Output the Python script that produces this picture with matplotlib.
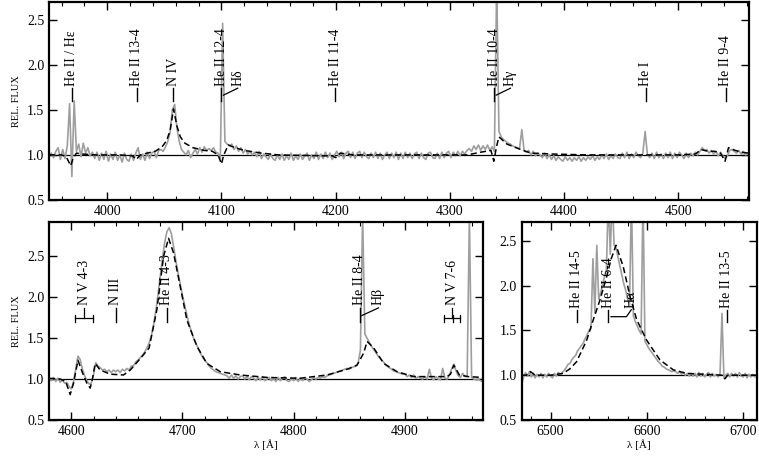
import numpy as np
import matplotlib
matplotlib.use("Agg")
import matplotlib.pyplot as plt
from matplotlib.ticker import MultipleLocator, FormatStrFormatter

plt.rcParams['font.family'] = ['Liberation Serif', 'DejaVu Serif']

# observed spectrum, blue part (2 A steps from 3949 A)
obs_blue_wave = np.arange(3949, 4562, 2)
obs_blue_flux = [
    1.00, 1.02, 0.97, 1.04, 1.08, 0.95, 1.06, 0.96, 1.10, 1.57,
    0.76, 1.60, 1.04, 1.12, 0.98, 1.13, 1.02, 1.08, 0.99, 1.03,
    0.96, 1.03, 0.94, 1.02, 0.95, 1.04, 0.93, 1.01, 0.95, 1.03,
    0.94, 1.00, 0.92, 1.02, 0.95, 0.93, 1.01, 0.94, 1.02, 1.08,
    0.95, 1.01, 0.94, 1.03, 0.96, 1.02, 1.04, 0.97, 1.05, 1.06,
    1.04, 1.09, 1.15, 1.25, 1.50, 1.56, 1.30, 1.15, 1.06, 1.03,
    1.00, 1.05, 0.97, 1.02, 1.06, 1.01, 1.08, 1.03, 1.09, 1.05,
    1.07, 1.05, 1.08, 1.03, 1.02, 0.96, 2.46, 1.15, 1.12, 1.10,
    1.12, 1.06, 1.10, 1.04, 1.08, 1.02, 1.06, 1.01, 1.04, 1.00,
    1.03, 0.98, 1.04, 0.96, 1.01, 0.98, 0.95, 1.01, 0.96, 0.94,
    1.00, 0.95, 1.01, 0.94, 0.99, 0.95, 1.02, 0.94, 0.99, 0.95,
    1.01, 0.95, 0.99, 1.02, 0.94, 1.00, 0.96, 1.03, 0.95, 1.01,
    0.96, 1.03, 0.97, 1.02, 0.95, 1.00, 1.04, 0.98, 1.03, 0.96,
    1.02, 1.04, 0.97, 1.03, 0.96, 1.02, 1.04, 0.97, 1.03, 0.98,
    0.96, 1.02, 0.97, 1.03, 0.96, 1.02, 0.95, 1.00, 1.03, 0.96,
    1.02, 0.97, 1.03, 0.95, 1.02, 0.96, 1.03, 0.97, 1.02, 0.96,
    1.01, 1.03, 0.96, 1.02, 0.97, 0.95, 1.02, 1.03, 0.97, 0.96,
    1.02, 0.96, 1.03, 0.97, 1.02, 1.04, 0.97, 1.03, 0.99, 1.04,
    0.99, 1.04, 1.01, 1.05, 1.07, 1.04, 1.10, 1.06, 1.11, 1.05,
    1.10, 1.06, 1.11, 1.05, 1.09, 1.04, 2.90, 1.26, 1.20, 1.17,
    1.15, 1.13, 1.12, 1.10, 1.09, 1.08, 1.07, 1.28, 1.05, 1.03,
    1.05, 1.00, 1.04, 0.99, 1.02, 1.00, 0.97, 1.02, 0.96, 1.00,
    0.95, 0.99, 0.94, 0.98, 0.95, 0.93, 0.98, 0.94, 0.97, 0.93,
    0.97, 0.94, 0.98, 0.93, 0.97, 0.94, 0.98, 0.95, 0.99, 0.94,
    0.98, 0.95, 1.00, 0.96, 1.01, 0.95, 0.99, 0.96, 1.01, 0.97,
    0.96, 1.02, 0.97, 1.03, 0.96, 1.01, 0.97, 1.03, 0.99, 0.97,
    1.02, 1.26, 1.00, 0.97, 1.02, 0.96, 1.03, 0.97, 1.01, 0.96,
    1.02, 0.97, 1.03, 0.96, 1.02, 0.97, 1.03, 1.00, 0.96, 1.02,
    0.97, 1.02, 0.99, 1.03, 1.00, 1.04, 1.08, 1.05, 1.06, 1.02,
    1.05, 1.01, 1.04, 0.99, 1.03, 0.99, 0.96, 0.99, 1.05, 1.06,
    1.04, 1.02, 1.05, 1.01, 1.04, 1.00, 1.02,
]

# observed spectrum, He II 4686 part (2 A steps from 4580 A)
obs_green_wave = np.arange(4580, 4971, 2)
obs_green_flux = [
    1.00, 0.98, 1.02, 0.97, 1.01, 0.96, 0.99, 0.95, 0.96, 0.91,
    0.88, 0.96, 1.12, 1.28, 1.24, 1.12, 1.04, 0.98, 0.94, 0.95,
    1.05, 1.20, 1.16, 1.14, 1.11, 1.12, 1.09, 1.11, 1.08, 1.11,
    1.09, 1.11, 1.08, 1.12, 1.10, 1.13, 1.11, 1.16, 1.16, 1.21,
    1.23, 1.26, 1.29, 1.33, 1.38, 1.44, 1.53, 1.66, 1.83, 2.03,
    2.25, 2.48, 2.67, 2.80, 2.85, 2.78, 2.62, 2.45, 2.30, 2.16,
    2.02, 1.90, 1.78, 1.67, 1.58, 1.50, 1.44, 1.38, 1.32, 1.27,
    1.23, 1.20, 1.16, 1.13, 1.11, 1.09, 1.08, 1.07, 1.06, 1.05,
    1.04, 1.01, 1.05, 1.01, 1.04, 1.00, 1.03, 1.04, 1.00, 1.03,
    0.99, 1.03, 1.01, 0.98, 1.02, 0.99, 1.03, 0.98, 1.00, 1.02,
    0.98, 1.01, 0.97, 1.02, 0.98, 1.01, 1.03, 0.98, 0.97, 1.01,
    0.98, 1.02, 0.97, 1.01, 0.98, 1.02, 1.00, 0.97, 0.99, 1.02,
    1.00, 1.02, 1.01, 1.03, 1.02, 1.04, 1.05, 1.06, 1.07, 1.08,
    1.09, 1.10, 1.11, 1.12, 1.13, 1.12, 1.14, 1.15, 1.16, 1.20,
    1.35, 3.00, 1.55, 1.50, 1.45, 1.40, 1.36, 1.32, 1.28, 1.25,
    1.22, 1.19, 1.16, 1.14, 1.12, 1.10, 1.09, 1.08, 1.07, 1.06,
    1.06, 1.03, 1.05, 1.02, 1.05, 1.01, 1.03, 1.01, 1.00, 1.03,
    1.00, 1.12, 1.01, 0.99, 1.03, 1.00, 0.99, 1.13, 1.01, 1.00,
    1.05, 1.12, 1.18, 1.10, 1.04, 1.02, 1.07, 1.03, 1.03, 3.00,
    1.02, 1.00, 0.99, 1.00, 0.98, 0.97,
]

# observed spectrum, H alpha part (2 A steps from 6470 A)
obs_red_wave = np.arange(6470, 6715, 2)
obs_red_flux = [
    0.90, 0.98, 1.03, 0.99, 1.04, 0.98, 1.02, 0.97, 1.01, 0.98,
    1.02, 0.97, 1.01, 0.98, 1.02, 0.99, 0.97, 1.02, 0.99, 1.03,
    1.01, 1.03, 1.05, 1.08, 1.12, 1.13, 1.17, 1.20, 1.22, 1.27,
    1.30, 1.33, 1.36, 1.41, 1.45, 1.50, 1.52, 2.30, 1.70, 2.45,
    1.85, 1.92, 2.00, 2.10, 2.18, 3.00, 2.35, 3.00, 2.45, 2.42,
    2.32, 2.22, 2.12, 2.02, 1.95, 1.85, 1.78, 3.00, 1.66, 1.60,
    1.55, 1.50, 1.46, 3.00, 1.38, 1.34, 1.30, 1.27, 1.24, 1.21,
    1.18, 1.15, 1.13, 1.10, 1.09, 1.07, 1.06, 1.05, 1.04, 1.05,
    1.04, 1.02, 1.04, 1.01, 1.03, 1.00, 1.02, 0.99, 1.02, 0.99,
    1.02, 0.98, 1.03, 0.99, 1.02, 0.98, 1.01, 1.03, 0.98, 1.02,
    0.99, 1.01, 0.98, 1.02, 1.69, 0.97, 1.00, 1.02, 0.98, 1.02,
    0.99, 1.02, 0.98, 1.03, 0.99, 0.98, 1.02, 0.97, 1.01, 0.98,
    1.01, 0.98, 1.00,
]

# model spectrum
mod_blue_wave = [3949, 3960, 3964, 3968, 3970, 3973, 3978, 3990, 4010, 4022,
                 4025.5, 4029, 4035, 4042, 4048, 4052, 4055, 4058, 4061, 4064,
                 4068, 4075, 4085, 4092, 4097, 4100, 4102, 4106, 4112, 4120,
                 4135, 4150, 4190, 4197, 4200, 4204, 4215, 4250, 4300, 4315,
                 4327, 4336, 4338.5, 4341, 4343, 4350, 4362, 4371, 4390, 4420,
                 4500, 4515, 4520, 4526, 4532, 4537, 4541, 4544, 4550, 4555,
                 4562]
mod_blue_flux = [1.00, 1.00, 0.98, 0.88, 0.96, 1.02, 1.01, 1.00, 1.00, 0.99,
                 0.95, 1.00, 1.02, 1.04, 1.09, 1.16, 1.27, 1.51, 1.32, 1.20,
                 1.13, 1.08, 1.05, 1.04, 1.00, 0.90, 1.00, 1.11, 1.08, 1.05,
                 1.02, 1.00, 0.99, 0.99, 0.97, 1.02, 1.00, 1.00, 1.00, 1.00,
                 1.03, 1.05, 0.93, 1.10, 1.20, 1.12, 1.06, 1.02, 1.01, 1.00,
                 1.00, 1.01, 1.06, 1.04, 1.04, 1.02, 0.93, 1.08, 1.05, 1.03,
                 1.02]

mod_green_wave = [4580, 4590, 4595, 4599, 4602, 4606, 4610, 4614, 4617, 4619,
                  4621.5, 4626, 4635, 4647, 4653, 4662, 4670, 4677, 4683, 4687.5,
                  4692, 4698, 4704, 4713, 4722, 4734, 4752, 4776, 4806, 4830,
                  4848, 4857, 4863, 4866, 4872, 4881, 4893, 4908, 4938, 4941,
                  4944, 4949, 4957, 4970]
mod_green_flux = [1.01, 1.00, 0.97, 0.81, 0.95, 1.23, 1.08, 0.95, 0.89, 1.00,
                  1.19, 1.11, 1.06, 1.05, 1.11, 1.25, 1.38, 1.85, 2.50, 2.72,
                  2.54, 2.13, 1.72, 1.40, 1.19, 1.09, 1.05, 1.02, 1.01, 1.05,
                  1.12, 1.17, 1.32, 1.46, 1.38, 1.19, 1.09, 1.03, 1.03, 1.06,
                  1.17, 1.05, 1.03, 1.02]

mod_red_wave = [6470, 6475, 6479, 6484, 6500, 6513, 6520, 6527, 6537.5, 6544.4,
                6551.3, 6558.3, 6563, 6568, 6575.5, 6582.5, 6589.4, 6599.8, 6613.6, 6627.4,
                6641.3, 6660, 6678, 6681, 6684, 6700, 6714]
mod_red_flux = [1.00, 1.00, 1.04, 1.00, 1.00, 1.02, 1.07, 1.15, 1.39, 1.62,
                1.84, 2.10, 2.30, 2.45, 2.21, 1.88, 1.62, 1.39, 1.17, 1.06,
                1.02, 1.01, 1.00, 0.96, 1.00, 1.00, 1.00]

# line identifications
blue_lines = [("He II / Hε", 3969.0), ("He II 13-4", 4025.6), ("N IV", 4057.8),
              ("He II 11-4", 4199.8), ("He I", 4471.5), ("He II 9-4", 4541.6)]
blue_pairs = [("He II 12-4", 4100.0, "Hδ", 4101.7), ("He II 10-4", 4338.7, "Hγ", 4340.5)]
green_lines = [("N III", 4640.0), ("He II 4-3", 4685.7)]
green_pairs = [("He II 8-4", 4859.3, "Hβ", 4861.3)]
green_groups = [("N V 4-3", [4603.7, 4619.9]), ("N V 7-6", [4935.0, 4943.0, 4950.0])]
red_lines = [("He II 14-5", 6527.1), ("He II 13-5", 6683.2)]
red_pairs = [("He II 6-4", 6560.1, "Hα", 6562.8)]

LABEL_FS = 10


def mark_line(ax, x, text, y0, h, gap):
    ax.plot([x, x], [y0, y0 + h], color='k', lw=1.0)
    ax.text(x, y0 + h + gap, text, rotation=90, ha='center', va='bottom', fontsize=LABEL_FS)


def mark_pair(ax, x1, t1, x2, t2, y0, h, gap, shift, flat=0.0):
    # second label pushed to the right, joined by a short kinked line
    mark_line(ax, x1, t1, y0, h, gap)
    ym = y0 + 0.45 * h
    ax.plot([x2, x2 + flat, x2 + shift], [ym, ym, y0 + h], color='k', lw=0.9)
    ax.text(x2 + shift, y0 + h + gap, t2, rotation=90, ha='center', va='bottom', fontsize=LABEL_FS)


def mark_group(ax, xs, text, y0, h, gap):
    # multiplet: a bracket with a stem in the middle
    xc = 0.5 * (xs[0] + xs[-1])
    yb = y0 + 0.25 * h
    for x in xs:
        ax.plot([x, x], [y0, y0 + 0.5 * h], color='k', lw=0.9)
    ax.plot([xs[0], xs[-1]], [yb, yb], color='k', lw=0.9)
    ax.plot([xc, xc], [yb, y0 + h], color='k', lw=0.9)
    ax.text(xc, y0 + h + gap, text, rotation=90, ha='center', va='bottom', fontsize=LABEL_FS)


def style_axes(ax, xlim, ylim):
    ax.set_xlim(*xlim)
    ax.set_ylim(*ylim)
    ax.axhline(1.0, color='k', lw=0.9, zorder=1)
    ax.xaxis.set_major_locator(MultipleLocator(100))
    ax.xaxis.set_minor_locator(MultipleLocator(20))
    ax.yaxis.set_major_locator(MultipleLocator(0.5))
    ax.yaxis.set_major_formatter(FormatStrFormatter('%.1f'))
    ax.tick_params(which='both', direction='in', top=True, right=True, labelsize=10)
    ax.tick_params(which='major', length=6, width=1.0)
    ax.tick_params(which='minor', length=3, width=0.8)
    for s in ax.spines.values():
        s.set_linewidth(1.6)


def draw_spectrum(ax, ow, of, mw, mf):
    ax.plot(ow, of, color='0.62', lw=1.2, zorder=2)
    ax.plot(mw, mf, color='k', lw=1.1, ls=(0, (4, 2.2)), zorder=3)


fig = plt.figure(figsize=(7.59, 4.59), dpi=100)
ax_top = fig.add_axes([0.0646, 0.5643, 0.9223, 0.4320])
ax_bl = fig.add_axes([0.0646, 0.0850, 0.5714, 0.4314])
ax_br = fig.add_axes([0.6873, 0.0850, 0.3096, 0.4314])

# top panel
style_axes(ax_top, (3949, 4562), (0.5, 2.70))
draw_spectrum(ax_top, obs_blue_wave, obs_blue_flux, mod_blue_wave, mod_blue_flux)
for name, x in blue_lines:
    mark_line(ax_top, x, name, 1.60, 0.14, 0.02)
for n1, x1, n2, x2 in blue_pairs:
    mark_pair(ax_top, x1, n1, x2, n2, 1.60, 0.14, 0.02, 12.5)
ax_top.set_ylabel("REL. FLUX", fontsize=7.5)

# bottom left panel
style_axes(ax_bl, (4580, 4970), (0.5, 2.92))
draw_spectrum(ax_bl, obs_green_wave, obs_green_flux, mod_green_wave, mod_green_flux)
for name, x in green_lines:
    mark_line(ax_bl, x, name, 1.70, 0.17, 0.03)
for n1, x1, n2, x2 in green_pairs:
    mark_pair(ax_bl, x1, n1, x2, n2, 1.70, 0.17, 0.03, 15.0)
for name, xs in green_groups:
    mark_group(ax_bl, xs, name, 1.70, 0.17, 0.03)
ax_bl.set_ylabel("REL. FLUX", fontsize=7.5)
ax_bl.set_xlabel("λ [Å]", fontsize=8, labelpad=1)

# bottom right panel
style_axes(ax_br, (6470, 6714), (0.5, 2.71))
draw_spectrum(ax_br, obs_red_wave, obs_red_flux, mod_red_wave, mod_red_flux)
for name, x in red_lines:
    mark_line(ax_br, x, name, 1.59, 0.14, 0.02)
for n1, x1, n2, x2 in red_pairs:
    mark_pair(ax_br, x1, n1, x2, n2, 1.59, 0.14, 0.02, 21.0, flat=16.0)
ax_br.set_xlabel("λ [Å]", fontsize=8, labelpad=1)

fig.savefig("out.png", dpi=100)
